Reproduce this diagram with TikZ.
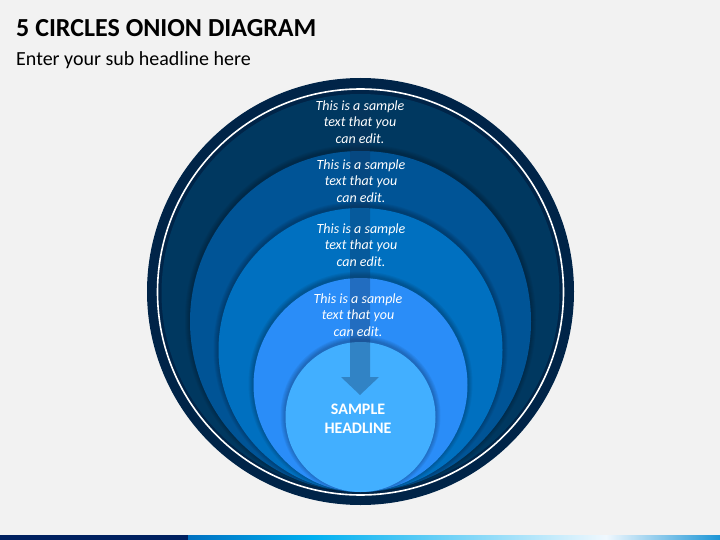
\documentclass[tikz,border=0pt]{standalone}
\usepackage{fontspec}
\setmainfont{Carlito}
\definecolor{bgc}{RGB}{242,242,242}
\definecolor{ringc}{RGB}{0,36,72}
\definecolor{cA}{RGB}{0,56,96}
\definecolor{cB}{RGB}{0,84,150}
\definecolor{cC}{RGB}{0,112,192}
\definecolor{cD}{RGB}{42,141,248}
\definecolor{cE}{RGB}{66,175,255}
\definecolor{arrowc}{RGB}{20,50,90}
\definecolor{barnavy}{RGB}{0,32,96}
\definecolor{barblue}{RGB}{0,112,192}
\definecolor{barcyan}{RGB}{0,176,240}
\definecolor{barwhite}{RGB}{240,248,254}
\definecolor{barend}{RGB}{27,149,214}
\tikzset{
  sampletxt/.style={text=white, align=center, inner sep=0pt,
    font=\fontsize{14}{16.8}\selectfont\itshape},
  headtxt/.style={text=white, align=center, inner sep=0pt,
    font=\fontsize{16}{19.5}\selectfont\bfseries},
  shadowring/.style={fill=black, fill opacity=0.05},
}
\newcommand{\layer}[4]{% color, cx, cy, r
  \foreach \k in {5,4,3,2,1}{
    \fill[shadowring] (#2,#3-1.5) circle[radius=#4pt+\k pt];
  }
  \fill[#1] (#2,#3) circle[radius=#4pt];
}
\begin{document}
\begin{tikzpicture}[x=1pt,y=-1pt]
\useasboundingbox (0,0) rectangle (720,540);
\fill[bgc] (0,0) rectangle (720,540);
% title
\node[anchor=base west, inner sep=0pt, font=\fontsize{26}{30}\selectfont\bfseries] (title) at (16,37) {5 CIRCLES ONION DIAGRAM};
\node[anchor=base west, inner sep=0pt, font=\fontsize{20}{24}\selectfont] (sub) at (16,66) {Enter your sub headline here};
% outer ring
\fill[ringc] (360.5,291.5) circle[radius=213.5pt];
\draw[white, line width=1.6pt] (360.5,292) circle[radius=203pt];
\fill[cA] (360.5,293) circle[radius=199pt];
\begin{scope}
  \clip (360.5,293) circle[radius=199pt];
  \layer{cB}{360.5}{321.5}{170.5}
  \layer{cC}{360.5}{350}{142}
  \layer{cD}{360.5}{385}{107}
  \layer{cE}{360.5}{417}{75}
\end{scope}
% arrow
\fill[arrowc, fill opacity=0.35] (350,108) -- (370,108) -- (370,377) -- (379,377) -- (360,395) -- (341,377) -- (350,377) -- cycle;
% texts
\node[sampletxt] (t1) at (360,122) {This is a sample\\text that you\\can edit.};
\node[sampletxt] (t2) at (361,181) {This is a sample\\text that you\\can edit.};
\node[sampletxt] (t3) at (361,245) {This is a sample\\text that you\\can edit.};
\node[sampletxt] (t4) at (358,315) {This is a sample\\text that you\\can edit.};
\node[headtxt] (hl) at (358,419) {SAMPLE\\HEADLINE};
% bottom bar
\fill[barnavy] (0,535) rectangle (188,540);
\shade[left color=barblue, right color=barcyan] (188,535) rectangle (312,540);
\shade[left color=barcyan, right color=barwhite] (312,535) rectangle (606,540);
\shade[left color=barwhite, right color=barend] (606,535) rectangle (720,540);
\end{tikzpicture}
\end{document}
